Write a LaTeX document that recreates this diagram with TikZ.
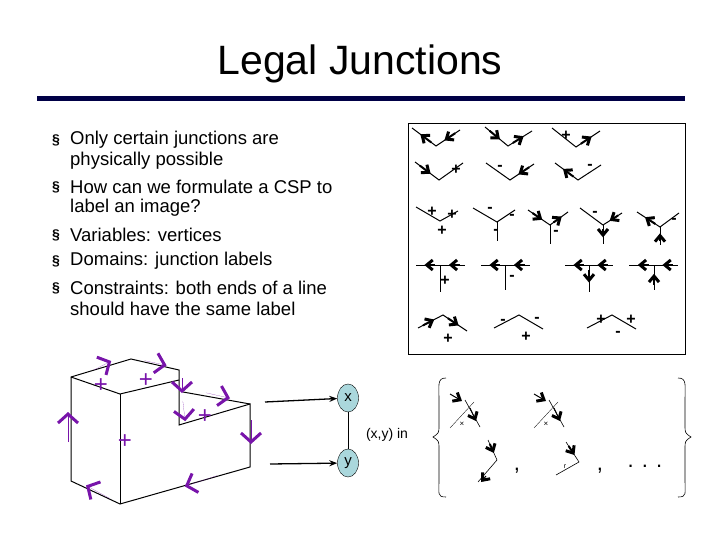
\documentclass[tikz,border=0pt]{standalone}
\usepackage{fontspec}
\setmainfont{Liberation Sans}
\usetikzlibrary{calc,arrows.meta,shapes.geometric}
\definecolor{navy}{RGB}{0,0,70}
\definecolor{purp}{RGB}{120,20,170}
\definecolor{lblue}{RGB}{170,215,220}
\newcommand\jarr[2]{\draw[jarrow] ($#1!0.2!#2$) -- ($#1!0.65!#2$);}
\newcommand\parr[2]{\draw[parrow] ($#1!0.2!#2$) -- ($#1!0.8!#2$);}
\tikzset{
 jline/.style={line width=1pt},
 jarrow/.style={line width=2pt,-{Straight Barb[length=6pt,width=10pt,line width=3pt]}},
 parrow/.style={purp,line width=0.1pt,-{Straight Barb[length=9pt,width=20pt,line width=3pt]}},
 lab/.style={font=\bfseries\fontsize{16}{16}\selectfont,inner sep=0pt},
 plab/.style={purp,font=\fontsize{24}{24}\selectfont,inner sep=0pt},
 bul/.style={anchor=west,font=\fontsize{18.5}{18.5}\selectfont,inner sep=0pt},
 fig/.style={line width=1pt},
 var/.style={draw,fill=lblue,ellipse,minimum width=21pt,minimum height=28pt,inner sep=0pt,font=\fontsize{15}{15}\selectfont},
}
\begin{document}
\begin{tikzpicture}[x=1pt,y=-1pt]
\useasboundingbox (0,0) rectangle (720,540);
\node (title) at (360,64) {\fontsize{41}{41}\selectfont Legal Junctions};
\draw[navy,line width=5pt] (37,99) -- (685,99);
% bullets
\foreach \y in {140,187,235,261,288} \node[bul] at (52,\y) {\fontsize{14}{14}\selectfont\bfseries §};
\node[bul] (b1) at (70,140) {Only certain junctions are};
\node[bul] (b1b) at (70,161) {physically possible};
\node[bul] (b2) at (70,187) {How can we formulate a CSP to};
\node[bul] (b2b) at (70,208) {label an image?};
\node[bul] (b3) at (70,235) {Variables: vertices};
\node[bul] (b4) at (70,261) {Domains: junction labels};
\node[bul] (b5) at (70,288) {Constraints: both ends of a line};
\node[bul] (b5b) at (70,309) {should have the same label};
% junction table
\draw[line width=0.8pt] (408,123) rectangle (685,354);
% row 1
\draw[jline] (412,128)--(436,146)--(460,130); \jarr{(436,146)}{(412,128)} \jarr{(460,130)}{(436,146)}
\draw[jline] (485,127)--(508,146)--(532,131); \jarr{(485,127)}{(508,146)} \jarr{(508,146)}{(532,131)}
\draw[jline] (552,128)--(576,147)--(600,131); \node[lab] at (566,136){+}; \jarr{(576,147)}{(600,131)}
% row 2
\draw[jline] (415,162)--(439,180)--(463,163); \jarr{(415,162)}{(439,180)} \node[lab] at (456,170){+};
\draw[jline] (486,163)--(510,180)--(534,164); \node[lab] at (500,168){-}; \jarr{(534,164)}{(510,180)}
\draw[jline] (555,163)--(578,180)--(601,165); \jarr{(578,180)}{(555,163)} \node[lab] at (590,167){-};
% row 3
\draw[jline] (416,207)--(440,221)--(458,211); \node[lab] at (432,212){+}; \node[lab] at (452,215){+}; \node[lab] at (442,231){+};
\draw[jline] (473,208)--(497,222)--(515,210); \draw[jline] (497,222)--(497,241);
\node[lab] at (490,210){-}; \node[lab] at (512,217){-}; \node[lab] at (496,232){-};
\draw[jline] (528,210)--(550,225)--(568,212); \draw[jline] (550,225)--(550,244);
\jarr{(528,210)}{(550,225)} \jarr{(550,225)}{(568,212)} \node[lab] at (556,233){-};
\draw[jline] (580,208)--(603,225)--(622,213); \draw[jline] (603,225)--(603,244);
\node[lab] at (595,214){-}; \jarr{(622,213)}{(603,225)} \jarr{(603,225)}{(603,244)}
\draw[jline] (637,212)--(660,227)--(679,213); \draw[jline] (660,227)--(660,245);
\jarr{(660,227)}{(637,212)} \node[lab] at (674,221){-}; \jarr{(660,245)}{(660,227)}
% row 4
\draw[jline] (416,265)--(465,265); \draw[jline] (440,265)--(440,292);
\jarr{(440,265)}{(416,265)} \jarr{(465,265)}{(440,265)} \node[lab] at (445,281){+};
\draw[jline] (481,265)--(530,265); \draw[jline] (505,265)--(505,290);
\jarr{(505,265)}{(481,265)} \jarr{(530,265)}{(505,265)} \node[lab] at (512,278){-};
\draw[jline] (565,265)--(613,265); \draw[jline] (589,265)--(589,292);
\jarr{(589,265)}{(565,265)} \jarr{(613,265)}{(589,265)} \jarr{(589,265)}{(589,292)}
\draw[jline] (629,265)--(678,265); \draw[jline] (654,265)--(654,290);
\jarr{(654,265)}{(629,265)} \jarr{(678,265)}{(654,265)} \jarr{(654,290)}{(654,265)}
% row 5
\draw[jline] (418,328)--(443,315)--(467,331); \jarr{(418,328)}{(443,315)} \jarr{(443,315)}{(467,331)} \node[lab] at (448,339){+};
\draw[jline] (494,328)--(519,315)--(543,329); \node[lab] at (503,322){-}; \node[lab] at (537,320){-}; \node[lab] at (526,337){+};
\draw[jline] (587,328)--(612,315)--(636,329); \node[lab] at (601,320){+}; \node[lab] at (631,320){+}; \node[lab] at (618,334){-};
% L-shaped block
\draw[fig] (71,377)--(131,359)--(179,370)--(179,425)--(250,404)--(250,467)--(120,504)--(71,481)--cycle;
\draw[fig] (71,377)--(120,394)--(179,380);
\draw[fig] (120,394)--(120,504);
\draw[fig] (183,392)--(250,404);
% purple labels
\node[plab] at (101,386){+}; \node[plab] at (146,381){+}; \node[plab] at (125,442){+}; \node[plab] at (205,417){+};
\parr{(88,373)}{(117,358)}
\parr{(137,359)}{(174,367)}
\parr{(182,373)}{(182,398)}
\parr{(182,394)}{(186,428)}
\parr{(198,391)}{(238,400)}
\parr{(251,412)}{(251,452)}
\parr{(68,452)}{(68,402)}
\parr{(228,472)}{(174,490)}
\parr{(118,503)}{(78,481)}
% variables
\node[var] (x) at (348,398) {x};
\node[var] (y) at (348,463) {y};
\draw[line width=0.6pt] (x) -- (y);
\coordinate (xs) at (265,402); \coordinate (ys) at (270,464);
\draw[line width=1.3pt,-{Stealth[length=8pt,width=6pt]}] (xs) -- (x);
\draw[line width=1.3pt,-{Stealth[length=8pt,width=6pt]}] (ys) -- (y);
\node (in) at (387,435) {\fontsize{14}{14}\selectfont (x,y) in};
% braces
\draw[line width=0.6pt] (446,378) .. controls (437,378) and (439,385) .. (439,400) -- (439,425) .. controls (439,433) .. (433,437) .. controls (439,441) .. (439,449) -- (439,480) .. controls (439,494) and (437,497) .. (446,497);
\draw[line width=0.6pt] (678,378) .. controls (687,378) and (685,385) .. (685,400) -- (685,425) .. controls (685,433) .. (691,437) .. controls (685,441) .. (685,449) -- (685,480) .. controls (685,494) and (687,497) .. (678,497);
% small junction pairs
\foreach \dx in {0,84}{
 \draw[line width=0.6pt] ($(465+\dx,400)$) -- ($(480+\dx,427)$);
 \draw[line width=0.3pt] ($(474+\dx,402)$) -- ($(450+\dx,428)$);
 \draw[jarrow,line width=1pt] ($(450+\dx,394)$) -- ($(462+\dx,401)$);
 \draw[jarrow,line width=1pt] ($(470+\dx,408)$) -- ($(476+\dx,421)$);
 \node[font=\fontsize{8}{8}\selectfont] at ($(462+\dx,424)$) {×};
}
\draw[line width=0.6pt] (488,440)--(497,460)--(478,482);
\jarr{(488,440)}{(497,460)} \draw[jarrow,line width=1pt] (486,476)--(481,482);
\draw[line width=0.6pt] (566,442)--(579,462)--(556,475);
\jarr{(566,442)}{(579,462)}
\node[font=\fontsize{7}{7}\selectfont] at (565,467) {r};
\node (c1) at (517,471) {\fontsize{22}{22}\selectfont ,};
\node (c2) at (600,471) {\fontsize{22}{22}\selectfont ,};
\node (dots) at (645,466) {\fontsize{22}{22}\selectfont . . .};
\end{tikzpicture}
\end{document}
